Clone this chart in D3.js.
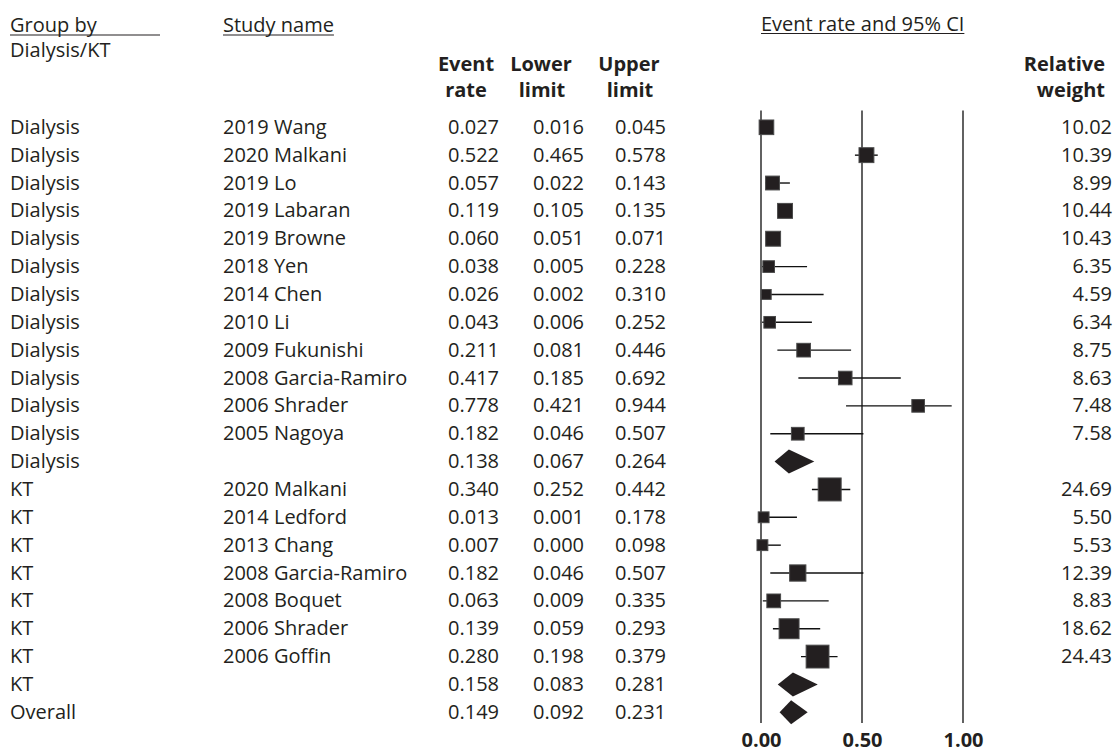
<!DOCTYPE html>
<html>
<head>
<meta charset="utf-8">
<script src="https://cdn.jsdelivr.net/npm/d3@7"></script>
<style>
  body { margin: 0; background: #fff; }
  text { font-family: "Open Sans", sans-serif; fill: #231f20; }
</style>
</head>
<body>
<div id="chart"></div>
<script>
// Data
var groups = ["Dialysis","Dialysis","Dialysis","Dialysis","Dialysis","Dialysis","Dialysis","Dialysis","Dialysis","Dialysis","Dialysis","Dialysis","Dialysis",
              "KT","KT","KT","KT","KT","KT","KT","KT","Overall"];
var studies = ["2019 Wang","2020 Malkani","2019 Lo","2019 Labaran","2019 Browne","2018 Yen","2014 Chen","2010 Li","2009 Fukunishi","2008 Garcia-Ramiro","2006 Shrader","2005 Nagoya","",
               "2020 Malkani","2014 Ledford","2013 Chang","2008 Garcia-Ramiro","2008 Boquet","2006 Shrader","2006 Goffin","",""];
var eventRate = [0.027,0.522,0.057,0.119,0.060,0.038,0.026,0.043,0.211,0.417,0.778,0.182,0.138,
                 0.340,0.013,0.007,0.182,0.063,0.139,0.280,0.158,0.149];
var lowerLimit = [0.016,0.465,0.022,0.105,0.051,0.005,0.002,0.006,0.081,0.185,0.421,0.046,0.067,
                  0.252,0.001,0.000,0.046,0.009,0.059,0.198,0.083,0.092];
var upperLimit = [0.045,0.578,0.143,0.135,0.071,0.228,0.310,0.252,0.446,0.692,0.944,0.507,0.264,
                  0.442,0.178,0.098,0.507,0.335,0.293,0.379,0.281,0.231];
var relWeight = [10.02,10.39,8.99,10.44,10.43,6.35,4.59,6.34,8.75,8.63,7.48,7.58,null,
                 24.69,5.50,5.53,12.39,8.83,18.62,24.43,null,null];
var xTicks = [0, 0.5, 1];

var rows = studies.map(function(s, i) {
    return {group: groups[i], study: s, rate: eventRate[i], lo: lowerLimit[i], hi: upperLimit[i],
            weight: relWeight[i], summary: relWeight[i] === null, i: i};
});

var width = 1115, height = 754;
var svg = d3.select("#chart").append("svg")
    .attr("width", width)
    .attr("height", height);

var ink = "#231f20";

// scales
var x = d3.scaleLinear().domain([0, 1]).range([761, 963]);
var y = d3.scaleLinear().domain([0, rows.length - 1]).range([127.3, 712.3]);
var side = d3.scaleSqrt().domain([0, 25]).range([0, 23.1]);

// column headers
function header(txt, xp, yp, anchor, bold) {
    return svg.append("text")
        .attr("x", xp).attr("y", yp)
        .attr("text-anchor", anchor || "start")
        .style("font-size", "20px")
        .style("font-weight", bold ? 700 : 400)
        .text(txt);
}
function underline(x1, x2, yp) {
    svg.append("line")
        .attr("x1", x1).attr("x2", x2)
        .attr("y1", yp).attr("y2", yp)
        .attr("stroke", ink).attr("stroke-width", 1.2);
}

header("Group by", 10, 32);
underline(10, 160, 35);
header("Dialysis/KT", 10, 57);
var sn = header("Study name", 223, 32);
underline(223, 223 + sn.node().getComputedTextLength(), 35);
var ci = header("Event rate and 95% CI", 761, 31);
underline(761, 761 + ci.node().getComputedTextLength(), 33.5);

header("Event", 466, 71, "middle", true);
header("rate", 466, 97, "middle", true);
header("Lower", 541, 71, "middle", true);
header("limit", 542, 97, "middle", true);
header("Upper", 629, 71, "middle", true);
header("limit", 630, 97, "middle", true);
header("Relative", 1105, 71, "end", true);
header("weight", 1105, 97, "end", true);

// reference lines
svg.append("g").attr("class", "grid")
    .selectAll("line")
    .data(xTicks)
    .enter().append("line")
    .attr("x1", function(d) { return x(d); })
    .attr("x2", function(d) { return x(d); })
    .attr("y1", 110.5)
    .attr("y2", 723)
    .attr("stroke", "#3a3a3a")
    .attr("stroke-width", 1.6);

// x axis labels
var xAxis = svg.append("g")
    .attr("class", "x_axis")
    .attr("transform", "translate(0,723)")
    .call(d3.axisBottom(x).tickValues(xTicks).tickFormat(d3.format(".2f")).tickSize(0).tickPadding(10));
xAxis.select(".domain").remove();
xAxis.selectAll("text")
    .style("font-family", "'Open Sans', sans-serif")
    .style("font-size", "20px")
    .style("font-weight", 700)
    .attr("fill", ink);

// table text
var fmt = d3.format(".3f");
var rowG = svg.selectAll(".row")
    .data(rows)
    .enter().append("g")
    .attr("class", "row")
    .attr("transform", function(d) { return "translate(0," + (y(d.i) + 6.5) + ")"; });

function col(xp, anchor, fn) {
    rowG.append("text")
        .attr("x", xp)
        .attr("text-anchor", anchor)
        .style("font-size", "20px")
        .text(fn);
}
col(10, "start", function(d) { return d.group; });
col(223, "start", function(d) { return d.study; });
col(499, "end", function(d) { return fmt(d.rate); });
col(584, "end", function(d) { return fmt(d.lo); });
col(666, "end", function(d) { return fmt(d.hi); });
col(1112, "end", function(d) { return d.weight === null ? "" : d.weight.toFixed(2); });

// study CIs and squares
var studyRows = rows.filter(function(d) { return !d.summary; });

svg.selectAll(".ci")
    .data(studyRows)
    .enter().append("line")
    .attr("class", "ci")
    .attr("x1", function(d) { return x(d.lo); })
    .attr("x2", function(d) { return x(d.hi); })
    .attr("y1", function(d) { return y(d.i); })
    .attr("y2", function(d) { return y(d.i); })
    .attr("stroke", "#111")
    .attr("stroke-width", 1.4);

svg.selectAll(".box")
    .data(studyRows)
    .enter().append("rect")
    .attr("class", "box")
    .attr("x", function(d) { return x(d.rate) - side(d.weight) / 2; })
    .attr("y", function(d) { return y(d.i) - side(d.weight) / 2; })
    .attr("width", function(d) { return side(d.weight); })
    .attr("height", function(d) { return side(d.weight); })
    .attr("fill", ink)
    .attr("stroke", "#4a4a4a")
    .attr("stroke-width", 1);

// summary diamonds
svg.selectAll(".diamond")
    .data(rows.filter(function(d) { return d.summary; }))
    .enter().append("path")
    .attr("class", "diamond")
    .attr("d", function(d) {
        var cy = y(d.i), h = 12;
        return "M" + x(d.lo) + "," + cy +
               "L" + x(d.rate) + "," + (cy - h) +
               "L" + x(d.hi) + "," + cy +
               "L" + x(d.rate) + "," + (cy + h) + "Z";
    })
    .attr("fill", ink);
</script>
</body>
</html>
